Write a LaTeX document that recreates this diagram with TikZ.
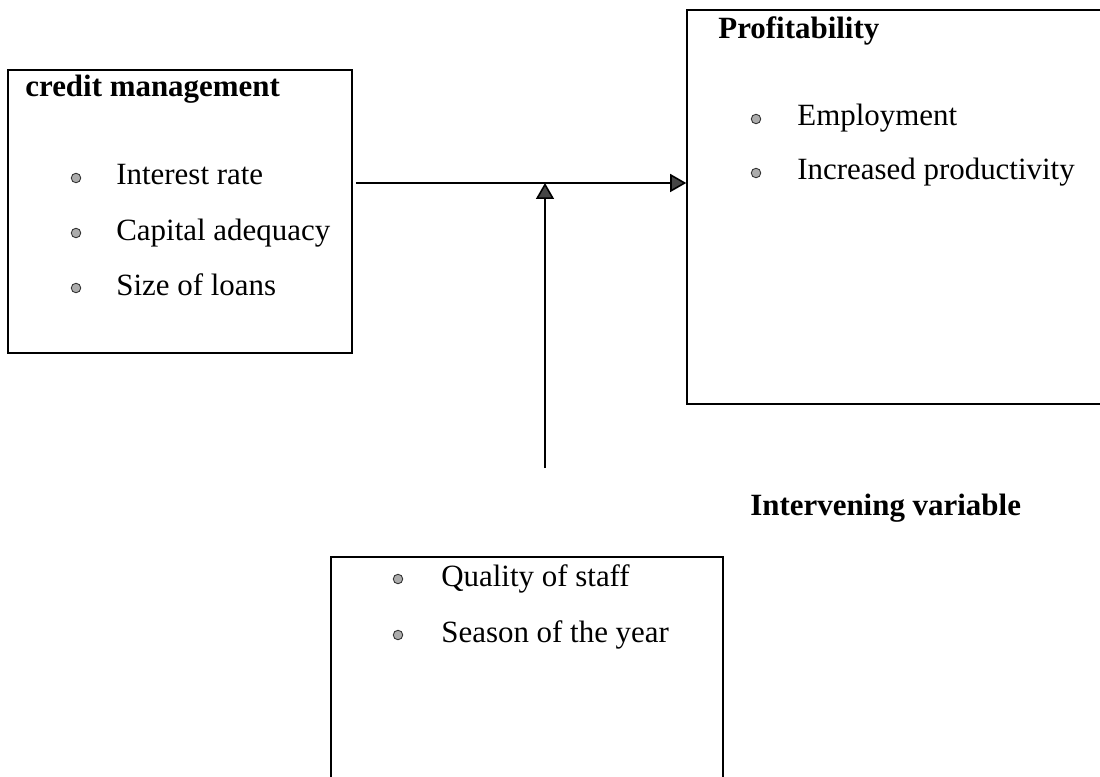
\documentclass[tikz,border=0pt]{standalone}
\usepackage{fontspec}
\setmainfont{Liberation Serif}
\usetikzlibrary{arrows.meta}

\tikzset{
  box/.style={draw, rectangle, line width=0.9pt, inner sep=0pt},
  head/.style={font=\fontsize{17.6}{21}\selectfont\bfseries, inner sep=0pt, anchor=base west},
  item/.style={inner sep=0pt, anchor=base west},
  dot/.style={circle, fill=gray!65, draw=black!80, line width=0.5pt, inner sep=0pt, minimum size=0.19cm},
  arr/.style={line width=0.9pt, -{Triangle[length=0.32cm, width=0.36cm, fill=gray!55!black]}}
}

\begin{document}
\begin{tikzpicture}[font=\fontsize{17.6}{21}\selectfont]
    \useasboundingbox (0,0) rectangle (22,15.52);
    \clip (0,0) rectangle (22,15.52);

    % Boxes
    \node[box, minimum width=6.88cm, minimum height=5.66cm] (credit) at (3.6,11.29) {};
    \node[box, minimum width=8.86cm, minimum height=7.88cm] (profit) at (18.17,11.38) {};
    \node[box, minimum width=7.84cm, minimum height=4.98cm] (interv) at (10.54,1.89) {};

    % Headings
    \node[head] (credithead) at (0.5,13.58) {credit management};
    \node[head] (profithead) at (14.36,14.74) {Profitability};
    \node[head] (intervhead) at (15.0,5.22) {Intervening variable};

    % Bullet lists
    \foreach \txt [count=\i] in {Interest rate, Capital adequacy, Size of loans} {
        \node[item] (ci\i) at (2.32,12.92-1.1*\i) {\txt};
        \node[dot] (cd\i) at (1.52,13.06-1.1*\i) {};
    }
    \foreach \txt [count=\i] in {Employment, Increased productivity} {
        \node[item] (pi\i) at (15.94,14.08-1.08*\i) {\txt};
        \node[dot] (pd\i) at (15.12,14.22-1.08*\i) {};
    }
    \foreach \txt [count=\i] in {Quality of staff, Season of the year} {
        \node[item] (qi\i) at (8.82,4.92-1.12*\i) {\txt};
        \node[dot] (qd\i) at (7.96,5.06-1.12*\i) {};
    }

    % Arrows
    \coordinate (join) at (10.9,11.86);
    \coordinate (foot) at (10.9,6.16);
    \draw[arr, shorten <=0.06cm] (join -| credit.east) -- (join -| profit.west);
    \draw[arr] (foot) -- (join);
\end{tikzpicture}
\end{document}
